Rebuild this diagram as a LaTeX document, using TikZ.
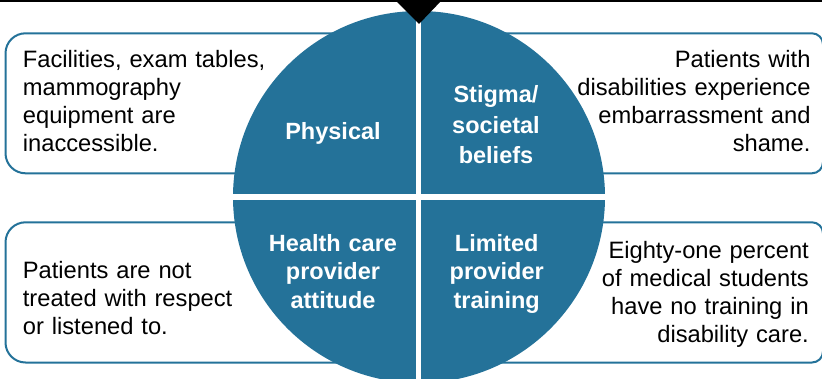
\documentclass[tikz,border=0pt]{standalone}
\usepackage{fontspec}
\setmainfont{Liberation Sans}
\definecolor{teal1}{RGB}{36,114,153}
\begin{document}
\begin{tikzpicture}[x=1pt,y=-1pt,
  box/.style={draw=teal1,line width=2pt,fill=white},
  desc/.style={font=\fontsize{23.7}{28}\selectfont, text width=270pt, inner sep=0pt},
  lab/.style={font=\bfseries\fontsize{23.5}{28.3}\selectfont, text=white, text width=160pt, align=center, inner sep=0pt}]
\useasboundingbox (0,0) rectangle (822,379);
% boxes behind the circle
\draw[box, rounded corners=20pt] (340,33.3) -- (5.5,33.3) -- (5.5,173.3) -- (340,173.3);
\draw[box, rounded corners=11pt] (500,33.3) -- (823,33.3) -- (823,173.3) -- (500,173.3);
\draw[box, rounded corners=20pt] (340,222.3) -- (5.5,222.3) -- (5.5,362.5) -- (340,362.5);
\draw[box, rounded corners=11pt] (500,222.3) -- (823,222.3) -- (823,362.5) -- (500,362.5);
% circle with quadrant gaps
\fill[teal1] (419,197) circle[radius=186];
\fill[white] (415.7,2) rectangle (421.3,390);
\fill[white] (200,194.5) rectangle (640,200);
% top rule and marker
\fill[black] (0,0) rectangle (822,2.2);
\fill[black] (395,0) -- (442,0) -- (419,24) -- cycle;
% descriptions
\node[desc, align=left, anchor=base west] (lt) at (22.7,67.3) {Facilities, exam tables,\\mammography\\equipment are\\inaccessible.};
\node[desc, align=right, anchor=base east] (rt) at (810.7,67.3) {Patients with\\disabilities experience\\embarrassment and\\shame.};
\node[desc, align=left, anchor=base west] (lb) at (22.7,278.5) {Patients are not\\treated with respect\\or listened to.};
\node[desc, align=right, anchor=base east] (rb) at (809,258.5) {Eighty-one percent\\of medical students\\have no training in\\disability care.};
% quadrant labels
\node[lab, anchor=base] (phys) at (333,140) {Physical};
\node[lab, anchor=base, font=\bfseries\fontsize{23.5}{30.6}\selectfont] (stig) at (496,102.7) {Stigma/\\societal\\beliefs};
\node[lab, anchor=base] (hcp) at (333,251.7) {Health care\\provider\\attitude};
\node[lab, anchor=base] (lpt) at (496.7,251.7) {Limited\\provider\\training};
\end{tikzpicture}
\end{document}
